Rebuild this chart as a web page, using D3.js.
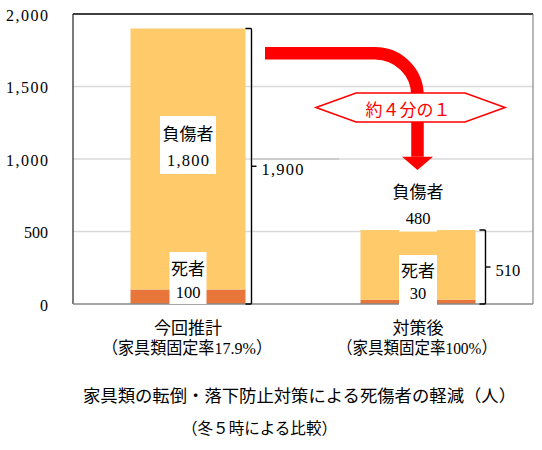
<!DOCTYPE html>
<html>
<head>
<meta charset="utf-8">
<script src="https://cdn.jsdelivr.net/npm/d3@7"></script>
<style>
  html, body { margin: 0; padding: 0; background: #fff; }
  svg { display: block; }
  .jp { font-family: "Noto Sans CJK JP", sans-serif; }
  .num { font-family: "Liberation Serif", serif; }
  .mix { font-family: "Liberation Serif", "Noto Sans CJK JP", serif; }
</style>
</head>
<body>
<svg id="chart" width="542" height="450"></svg>
<script>
// ---- data ----
const categories = ["今回推計", "対策後"];
const subLabels = ["（家具類固定率17.9%）", "（家具類固定率100%）"];
const deaths = [100, 30];
const injuries = [1800, 480];
const totals = [1900, 510];
const yTicks = [0, 500, 1000, 1500, 2000];
const seriesNames = ["死者", "負傷者"];
const reductionLabel = "約４分の１";
const titleLines = ["家具類の転倒・落下防止対策による死傷者の軽減（人）", "（冬５時による比較）"];

// ---- layout ----
const svg = d3.select("#chart");
const L = 73, R = 533, T = 14, B = 304;
const colors = { death: "#E8763A", injury: "#FECA6A", red: "#FF0000" };
const fmt = d3.format(",");
const SERIF = "'Liberation Serif', serif";
const MIX = "'Liberation Serif', 'Noto Sans CJK JP', serif";

const x = d3.scaleBand().domain(categories).range([L, R]).paddingInner(0.5).paddingOuter(0.25);
const y = d3.scaleLinear().domain([0, 2000]).range([B, T]);

function numWidth(s) { return s.includes(",") ? (s.length - 1) * 8 + 10 : null; }
function numText(g, s, xx, yy, anchor, size) {
  const t = g.append("text").attr("class", "num").attr("font-family", SERIF).attr("x", xx).attr("y", yy)
    .attr("text-anchor", anchor || "middle").attr("dominant-baseline", "central")
    .attr("font-size", size || 16).attr("fill", "#000").text(s);
  const w = numWidth(s);
  if (w) t.attr("textLength", w).attr("lengthAdjust", "spacing");
  return t;
}

// gridlines
svg.append("g").selectAll("line").data(yTicks.filter(d => d > 0 && d < 2000)).join("line")
  .attr("x1", L).attr("x2", R).attr("y1", d => y(d)).attr("y2", d => y(d))
  .attr("stroke", "#D9D9D9").attr("stroke-width", 1.3);
// darker stub segment on the 1,000 gridline
svg.append("line").attr("x1", 253).attr("x2", 339).attr("y1", y(1000)).attr("y2", y(1000))
  .attr("stroke", "#C4C4C4").attr("stroke-width", 1.5);

// y tick labels
const yg = svg.append("g");
yTicks.forEach(v => numText(yg, fmt(v), 48, y(v) + 1, "end", 16));

// bars
const bars = svg.append("g");
categories.forEach((c, i) => {
  bars.append("rect").attr("x", x(c)).attr("width", x.bandwidth())
    .attr("y", y(deaths[i])).attr("height", y(0) - y(deaths[i])).attr("fill", colors.death);
  bars.append("rect").attr("x", x(c)).attr("width", x.bandwidth())
    .attr("y", y(deaths[i] + injuries[i])).attr("height", y(deaths[i]) - y(deaths[i] + injuries[i]))
    .attr("fill", colors.injury);
});

// frame
svg.append("line").attr("x1", L).attr("x2", R).attr("y1", T).attr("y2", T).attr("stroke", "#000").attr("stroke-width", 1.3);
svg.append("line").attr("x1", L).attr("x2", L).attr("y1", T).attr("y2", B).attr("stroke", "#222").attr("stroke-width", 1.2);
svg.append("line").attr("x1", R).attr("x2", R).attr("y1", T).attr("y2", B).attr("stroke", "#888").attr("stroke-width", 1.2);
svg.append("line").attr("x1", L).attr("x2", R).attr("y1", B).attr("y2", B).attr("stroke", "#888").attr("stroke-width", 1.3);

// data labels
const lab = svg.append("g");
function labelBox(cx, top, bottom, w, name, value) {
  lab.append("rect").attr("x", cx - w / 2).attr("y", top).attr("width", w).attr("height", bottom - top).attr("fill", "#fff");
  const h = bottom - top;
  lab.append("text").attr("class", "jp").attr("x", cx).attr("y", top + h * 0.29)
    .attr("text-anchor", "middle").attr("dominant-baseline", "central").attr("font-size", 17).text(name);
  numText(lab, fmt(value), cx, top + h * 0.77, "middle", 16.5);
}
// 今回推計
{
  const cx = x(categories[0]) + x.bandwidth() / 2;
  labelBox(cx, y(deaths[0] + injuries[0] / 2) - 43, y(deaths[0] + injuries[0] / 2) + 15, 56, seriesNames[1], injuries[0]);
  labelBox(cx, y(0) - 52, y(0), 37, seriesNames[0], deaths[0]);
}
// 対策後
{
  const cx = x(categories[1]) + x.bandwidth() / 2;
  labelBox(cx, y(totals[1]) - 56, y(totals[1]) + 1.5, 38, seriesNames[1], injuries[1]);
  labelBox(cx, y(0) - 49, y(0) + 1, 38, seriesNames[0], deaths[1]);
}

// brackets for totals
const br = svg.append("g").attr("fill", "none").attr("stroke", "#000").attr("stroke-width", 1.4);
categories.forEach((c, i) => {
  const xr = x(c) + x.bandwidth();
  const bx = xr + 6 + (i === 1 ? 4 : 0);
  const yt = y(totals[i]), yb = y(0);
  const ym = (yt + yb) / 2;
  br.append("path").attr("d", `M${bx - 6},${yt} H${bx - 1} Q${bx},${yt} ${bx},${yt + 1} V${yb - 1} Q${bx},${yb} ${bx - 1},${yb} H${bx - 6}`);
  br.append("line").attr("x1", bx).attr("x2", bx + 5).attr("y1", ym).attr("y2", ym);
  numText(svg, fmt(totals[i]), bx + 10, ym + 3, "start", 16.5);
});

// red arrow
const ax = x(categories[1]) + x.bandwidth() / 2 - 0.5;
const ay = y(1730);
const r = 42.5;
svg.append("path")
  .attr("d", `M265,${ay} H${ax - r} A${r},${r} 0 0 1 ${ax},${ay + r} V${y(1015)}`)
  .attr("fill", "none").attr("stroke", colors.red).attr("stroke-width", 12.5);
svg.append("polygon")
  .attr("points", `${ax - 15.5},${y(1016)} ${ax + 15.5},${y(1016)} ${ax},${y(925)}`)
  .attr("fill", colors.red);

// hexagon label
const hy = 107.5;
svg.append("polygon")
  .attr("points", `316,${hy} 356,93 465,93 505,${hy} 465,122 356,122`)
  .attr("fill", "#fff").attr("stroke", colors.red).attr("stroke-width", 1.6);
svg.append("text").attr("class", "jp").attr("x", 408).attr("y", hy + 1)
  .attr("text-anchor", "middle").attr("dominant-baseline", "central")
  .attr("font-size", 17).attr("fill", colors.red).text(reductionLabel);

// category labels
const cg = svg.append("g");
categories.forEach((c, i) => {
  const cx = x(c) + x.bandwidth() / 2;
  cg.append("text").attr("class", "jp").attr("x", cx).attr("y", 326)
    .attr("text-anchor", "middle").attr("dominant-baseline", "central").attr("font-size", 17).text(c);
  cg.append("text").attr("class", "mix").attr("font-family", MIX).attr("x", cx - 1).attr("y", 348)
    .attr("text-anchor", "middle").attr("dominant-baseline", "central").attr("font-size", 17)
    .attr("textLength", i === 0 ? 170 : 160).attr("lengthAdjust", "spacingAndGlyphs").text(subLabels[i]);
});

// title
svg.append("text").attr("class", "jp").attr("x", 83).attr("y", 395)
  .attr("dominant-baseline", "central").attr("font-size", 16.5)
  .attr("textLength", 433).attr("lengthAdjust", "spacingAndGlyphs").text(titleLines[0]);
svg.append("text").attr("class", "jp").attr("x", 182).attr("y", 427)
  .attr("dominant-baseline", "central").attr("font-size", 16)
  .attr("textLength", 155).attr("lengthAdjust", "spacingAndGlyphs").text(titleLines[1]);
</script>
</body>
</html>
